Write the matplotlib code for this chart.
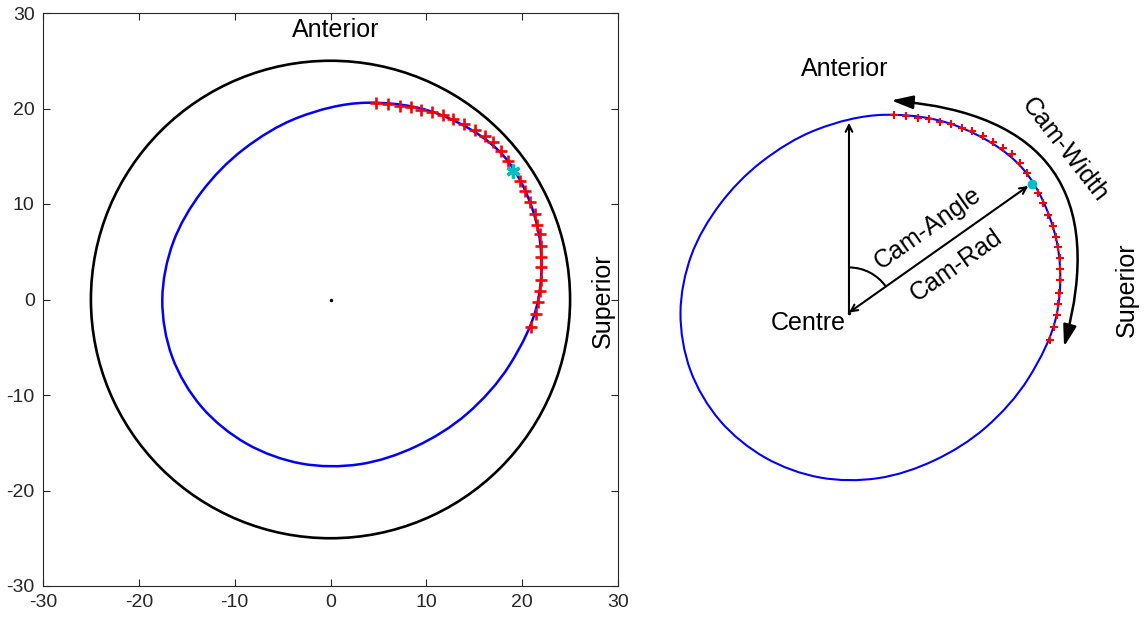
import numpy as np
import matplotlib
matplotlib.use("Agg")
import matplotlib.pyplot as plt
from matplotlib.patches import Circle, Arc, FancyArrowPatch, PathPatch
from matplotlib.path import Path

plt.rcParams['font.family'] = ['Liberation Sans', 'DejaVu Sans']
plt.rcParams['axes.unicode_minus'] = False

curve_x = [21.68, 21.54, 18.00, 11.23, 3.63, -3.36, -9.08, -13.44, -16.42,
           -17.55, -16.52, -13.43, -8.73, -3.03, 3.04, 8.89, 14.25, 18.72]
curve_y = [0.00, 7.84, 15.11, 19.44, 20.60, 19.06, 15.72, 11.28, 5.97,
           0.00, -6.01, -11.27, -15.11, -17.18, -17.25, -15.40, -11.96, -6.81]

# posiciones de camara (cruces rojas)
cam_x = [4.70, 5.98, 7.20, 8.35, 9.46, 10.61, 11.73, 12.77, 13.92, 15.03,
         16.08, 16.94, 17.82, 18.51, 19.73, 20.25, 20.77, 21.29, 21.54, 21.82,
         21.99, 21.99, 21.99, 21.92, 21.82, 21.64, 21.40, 20.95]
cam_y = [20.56, 20.49, 20.31, 20.14, 19.86, 19.62, 19.27, 18.92, 18.39, 17.77,
         17.17, 16.47, 15.60, 14.55, 12.46, 11.41, 10.19, 8.97, 7.85, 6.81,
         5.65, 4.50, 3.39, 2.06, 0.87, -0.28, -1.50, -2.83]

cam_centre = (19.03, 13.44)   # asterisco cyan
outer_radius = 25.0
centre = (0.0, 0.0)
anterior_y = 20.2             # punta de la flecha vertical


def closed_curve(x, y):
    # curva cerrada suave que pasa por los puntos leidos (Catmull-Rom -> Bezier)
    P = np.column_stack([x, y]); n = len(P)
    verts = [P[0]]; codes = [Path.MOVETO]
    for i in range(n):
        p0, p1, p2, p3 = P[i-1], P[i], P[(i+1) % n], P[(i+2) % n]
        verts += [p1 + (p2-p0)/6, p2 - (p3-p1)/6, p2]
        codes += [Path.CURVE4]*3
    return Path(verts, codes)


fig = plt.figure(figsize=(11.46, 6.21), dpi=100)

# ---- panel izquierdo ----
ax = fig.add_axes([43/1146, 1-586/621, 575/1146, 573/621])
ax.add_patch(Circle(centre, outer_radius, fill=False, color='k', lw=1.9))
ax.add_patch(PathPatch(closed_curve(curve_x, curve_y), fill=False, ec='b', lw=1.8))
ax.plot(cam_x, cam_y, 'r+', ms=9, mew=1.9)
ax.plot(*cam_centre, marker=(6, 2, 0), color='c', ms=10, mew=2.4, ls='none')
ax.plot(*centre, 'k.', ms=3)
ax.set_xlim(-30, 30); ax.set_ylim(-30, 30)
ax.set_xticks(range(-30, 31, 10)); ax.set_yticks(range(-30, 31, 10))
ax.tick_params(direction='in', top=True, right=True, length=5, width=0.8,
               labelsize=14, colors='#262626', pad=6)
for s in ax.spines.values():
    s.set_color('#262626'); s.set_linewidth(0.8)
ax.text(0.5, 28.2, "Anterior", fontsize=18, ha='center', va='center')
ax.text(28.4, -0.1, "Superior", fontsize=18, ha='center', va='center', rotation=90)

# ---- panel derecho (esquema) ----
bx = fig.add_axes([640/1146, 0, 506/1146, 1])
bx.set_xlim(-21.77, 30.94); bx.set_ylim(-32.13, 32.56)
bx.axis('off')
bx.add_patch(PathPatch(closed_curve(curve_x, curve_y), fill=False, ec='b', lw=1.5))
bx.plot(cam_x, cam_y, 'r+', ms=6, mew=1.5)
bx.plot(*cam_centre, 'o', color='c', ms=6, mec='c')
bx.plot(*centre, 'k.', ms=3)

bx.annotate('', xy=(0, anterior_y), xytext=centre,
            arrowprops=dict(arrowstyle='->', lw=1.5, color='k', mutation_scale=12,
                            shrinkA=0, shrinkB=3))
bx.annotate('', xy=cam_centre, xytext=centre,
            arrowprops=dict(arrowstyle='<->', lw=1.5, color='k', mutation_scale=12,
                            shrinkA=0, shrinkB=3))
ang = np.degrees(np.arctan2(cam_centre[1], cam_centre[0]))
bx.add_patch(Arc(centre, 9.4, 9.4, theta1=ang, theta2=90, color='k', lw=1.5))
bx.add_patch(FancyArrowPatch((4.4, 22.1), (22.4, -3.55),
                             connectionstyle='arc3,rad=-0.6',
                             arrowstyle='<|-|>,head_length=1.3,head_width=0.4',
                             mutation_scale=10, lw=1.8, color='k',
                             shrinkA=0, shrinkB=0))

bx.text(-0.4, 25.4, "Anterior", fontsize=18, ha='center', va='center')
bx.text(-4.2, -1.1, "Centre", fontsize=18, ha='center', va='center')
bx.text(8.2, 8.8, "Cam-Angle", fontsize=18, ha='center', va='center',
        rotation=ang, rotation_mode='anchor')
bx.text(11.2, 4.85, "Cam-Rad", fontsize=18, ha='center', va='center',
        rotation=ang, rotation_mode='anchor')
bx.text(22.45, 16.9, "Cam-Width", fontsize=18, ha='center', va='center',
        rotation=-52, rotation_mode='anchor')
bx.text(28.95, 2.4, "Superior", fontsize=18, ha='center', va='center', rotation=90)

fig.savefig("out.png", dpi=100)
